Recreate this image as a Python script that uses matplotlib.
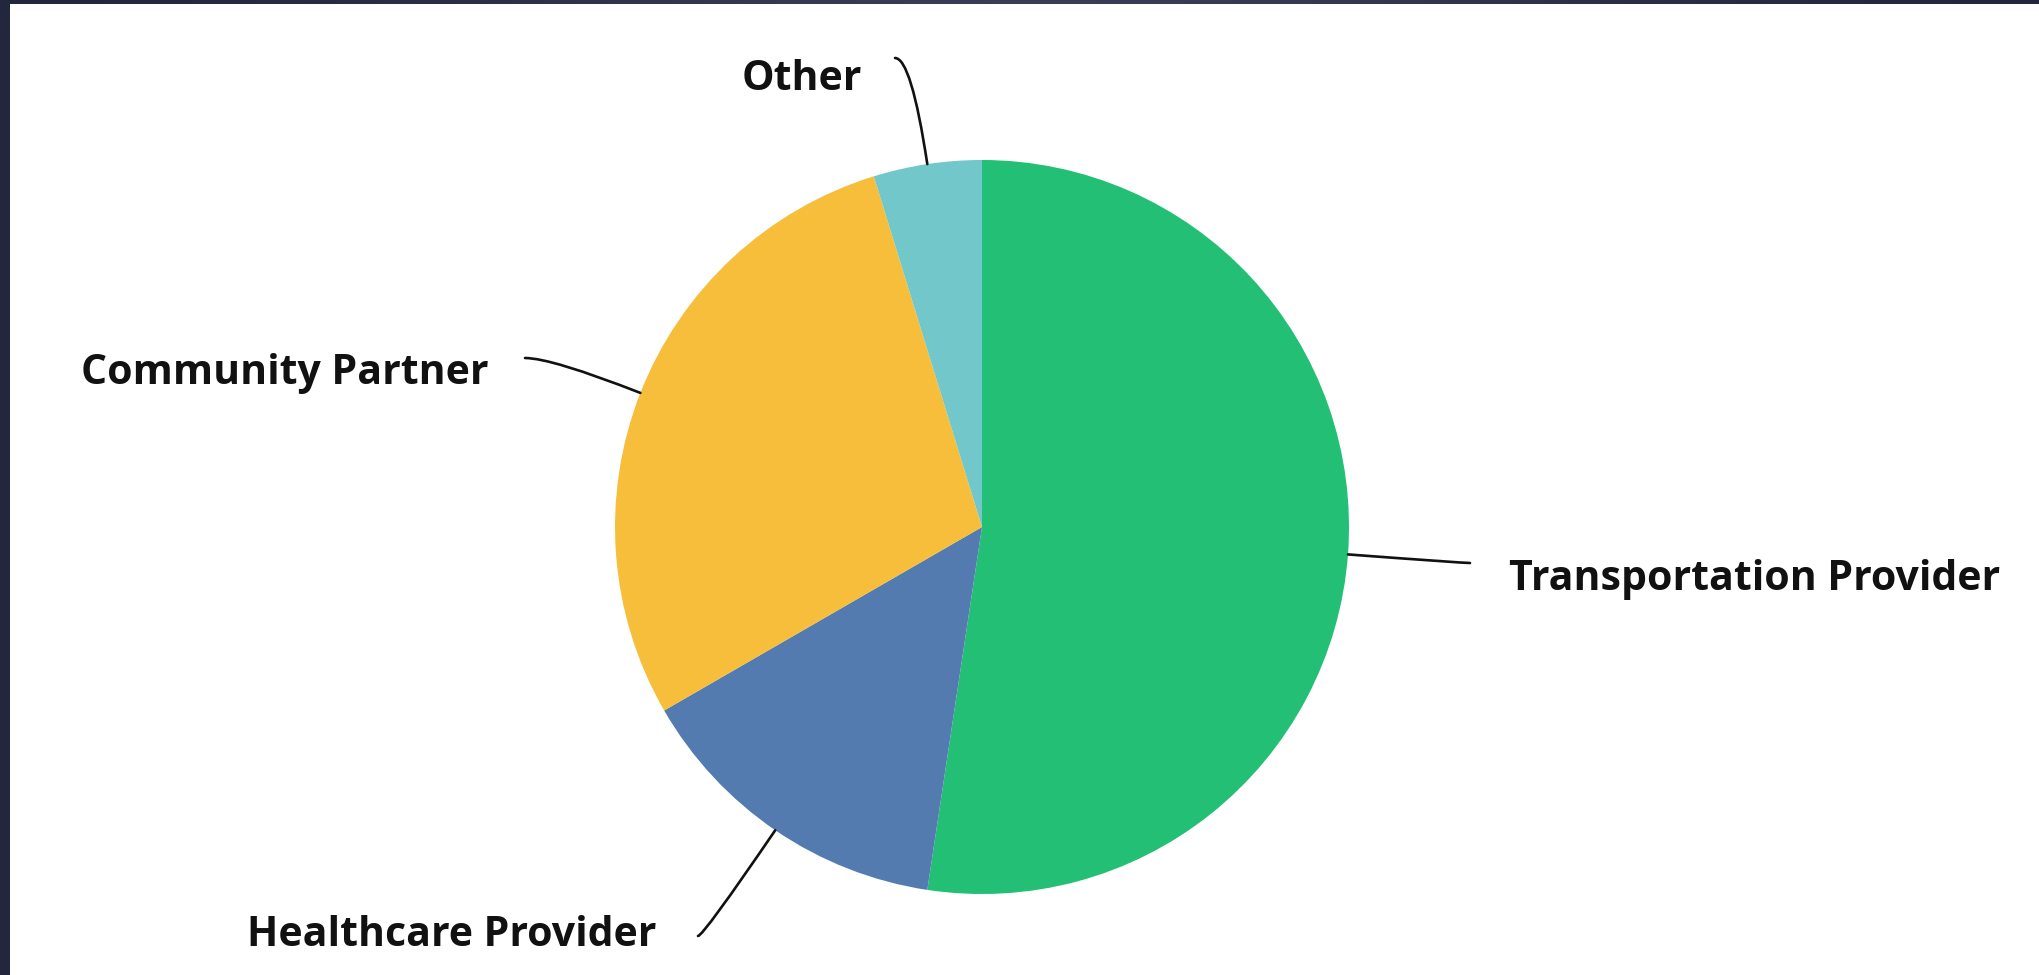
import numpy as np
import matplotlib
matplotlib.use("Agg")
import matplotlib.pyplot as plt
from matplotlib.patches import Rectangle, PathPatch
from matplotlib.path import Path
from matplotlib.colors import LinearSegmentedColormap

# ---- data ----
categories = ["Transportation Provider", "Healthcare Provider", "Community Partner", "Other"]
values = [11, 3, 6, 1]
colors = ["#22BF75", "#537BB0", "#F6BE3B", "#71C7C9"]

W, H = 2040, 975
DPI = 100
fig = plt.figure(figsize=(W / DPI, H / DPI), dpi=DPI, facecolor="white")
ax = fig.add_axes([0, 0, 1, 1])

cx, cy, R = 982, H - 527, 367
wedges, _ = ax.pie(values, colors=colors, startangle=90, counterclock=False,
                   center=(cx, cy), radius=R, wedgeprops=dict(linewidth=0),
                   frame=False)
ax.set_xlim(0, W)
ax.set_ylim(0, H)
ax.set_aspect("equal")
ax.axis("off")

# label layout (pixel coords, y from top): text left x, text center y, leader end
label_pos = [(1509, 580), (247, 935), (81, 374), (742, 79)]
leader_end = [(1470, 563), (698, 936), (525, 358), (895, 58)]

for w, name, (tx, ty), (ex, ey) in zip(wedges, categories, label_pos, leader_end):
    mid = np.deg2rad((w.theta1 + w.theta2) / 2)
    d = np.array([np.cos(mid), np.sin(mid)])
    p0 = np.array([cx, cy]) + R * d
    pe = np.array([ex, H - ey])
    # control point: radial line meets horizontal line through the end point
    t = (pe[1] - p0[1]) / d[1] if abs(d[1]) > 1e-6 else 0
    pc = p0 + t * d
    path = Path([p0, pc, pe], [Path.MOVETO, Path.CURVE3, Path.CURVE3])
    ax.add_patch(PathPatch(path, fill=False, edgecolor="#111111", linewidth=1.9,
                           capstyle="round"))
    ax.text(tx, H - ty, name, ha="left", va="center", fontsize=29.5,
            fontweight="bold", family="Open Sans", color="#111111")

# dark frame strips (left and top)
fig.patches.append(Rectangle((0, 0), 10 / W, 1, transform=fig.transFigure,
                             facecolor="#22273d", edgecolor="none", zorder=10))
gax = fig.add_axes([0, 1 - 4 / H, 1, 4 / H])
grad = np.array([[0.0, 0.5, 1.0, 0.6, 0.0]])
cmap = LinearSegmentedColormap.from_list("g", ["#22273d", "#3c4159"])
gax.imshow(grad, aspect="auto", cmap=cmap, interpolation="bicubic")
gax.axis("off")

fig.savefig("out.png", dpi=DPI, facecolor="white")
